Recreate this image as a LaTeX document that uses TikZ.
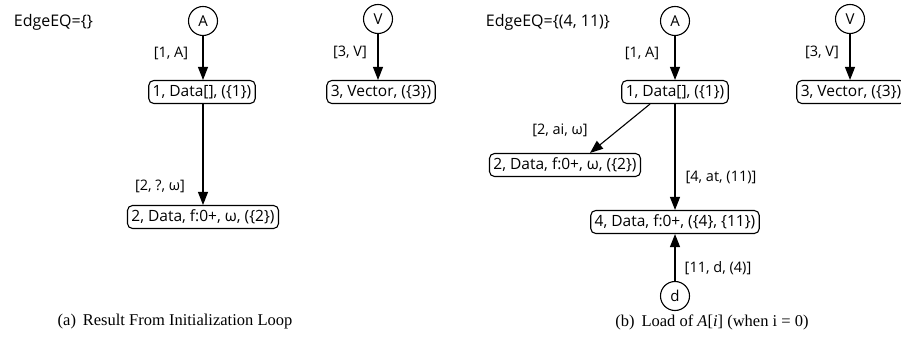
\documentclass[tikz,border=0pt]{standalone}
\usepackage{fontspec}
\setmainfont{Liberation Serif}
\newfontfamily\diafont{Open Sans}
\usepackage{tikz}
\usetikzlibrary{arrows.meta}

\tikzset{
  opbox/.style = {draw, rounded corners=5pt, inner xsep=4pt, inner ysep=0pt, minimum height=23pt, font=\diafont\fontsize{15.5}{18}\selectfont},
  var/.style = {draw, circle, minimum size=29pt, inner sep=0pt, font=\diafont\fontsize{15}{16}\selectfont},
  lbl/.style = {font=\diafont\fontsize{14.5}{16}\selectfont},
  flow/.style = {-{Triangle[length=13pt,width=10pt]}, line width=1.1pt},
  capt/.style = {font=\fontsize{16.5}{18}\selectfont}
}

\begin{document}
\begin{tikzpicture}[x=1pt, y=-1pt, line width=1.1pt]
        \clip (0, 0) rectangle (901, 352);
        % (a) result from the initialization loop
        \node[lbl, font=\diafont\fontsize{16}{18}\selectfont, anchor=west] (eqa) at (10, 22) {EdgeEQ=\{\}};
        \node[var] (a-A) at (203, 21) {A};
        \node[opbox] (a-n1) at (202, 92) {1, Data[], (\{1\})};
        \node[opbox] (a-n2) at (203, 217) {2, Data, f:0+, ω, (\{2\})};
        \node[var] (a-V) at (378, 19) {V};
        \node[opbox] (a-n3) at (381, 92) {3, Vector, (\{3\})};
        \draw[flow] (a-A) -- (a-A |- a-n1.north);
        \draw[flow] (a-A |- a-n1.south) -- (a-A |- a-n2.north);
        \draw[flow] (a-V) -- (a-V |- a-n3.north);
        \node[lbl] (a-l1) at (171, 53) {[1, A]};
        \node[lbl] (a-l2) at (160, 186) {[2, ?, ω]};
        \node[lbl] (a-l3) at (350, 52) {[3, V]};

        % (b) load of A[i]
        \node[lbl, font=\diafont\fontsize{16}{18}\selectfont, anchor=west] (eqb) at (482, 22) {EdgeEQ=\{(4, 11)\}};
        \node[var] (b-A) at (675, 21) {A};
        \node[opbox] (b-n1) at (675, 92) {1, Data[], (\{1\})};
        \node[opbox] (b-n2) at (565, 165) {2, Data, f:0+, ω, (\{2\})};
        \node[opbox] (b-n4) at (675, 222) {4, Data, f:0+, (\{4\}, \{11\})};
        \node[var] (b-d) at (675, 296) {d};
        \node[var] (b-V) at (850, 19) {V};
        \node[opbox] (b-n3) at (851, 92) {3, Vector, (\{3\})};
        \draw[flow] (b-A) -- (b-n1);
        \draw[flow] ([xshift=-25pt]b-n1.south) -- ([xshift=25pt]b-n2.north);
        \draw[flow] (b-n1) -- (b-n4);
        \draw[flow] (b-d) -- (b-n4);
        \draw[flow] (b-V) -- (b-V |- b-n3.north);
        \node[lbl] (b-l1) at (642, 53) {[1, A]};
        \node[lbl] (b-l2) at (560, 130) {[2, ai, ω]};
        \node[lbl] (b-l4) at (721, 177) {[4, at, (11)]};
        \node[lbl] (b-l11) at (718, 268) {[11, d, (4)]};
        \node[lbl] (b-l3) at (822, 52) {[3, V]};

        % captions
        \node[capt] (capa) at (175, 322) {(a)\, Result From Initialization Loop};
        \node[capt] (capb) at (712, 322) {(b)\, Load of \textit{A}[\textit{i}] (when i = 0)};
    \end{tikzpicture}
\end{document}
